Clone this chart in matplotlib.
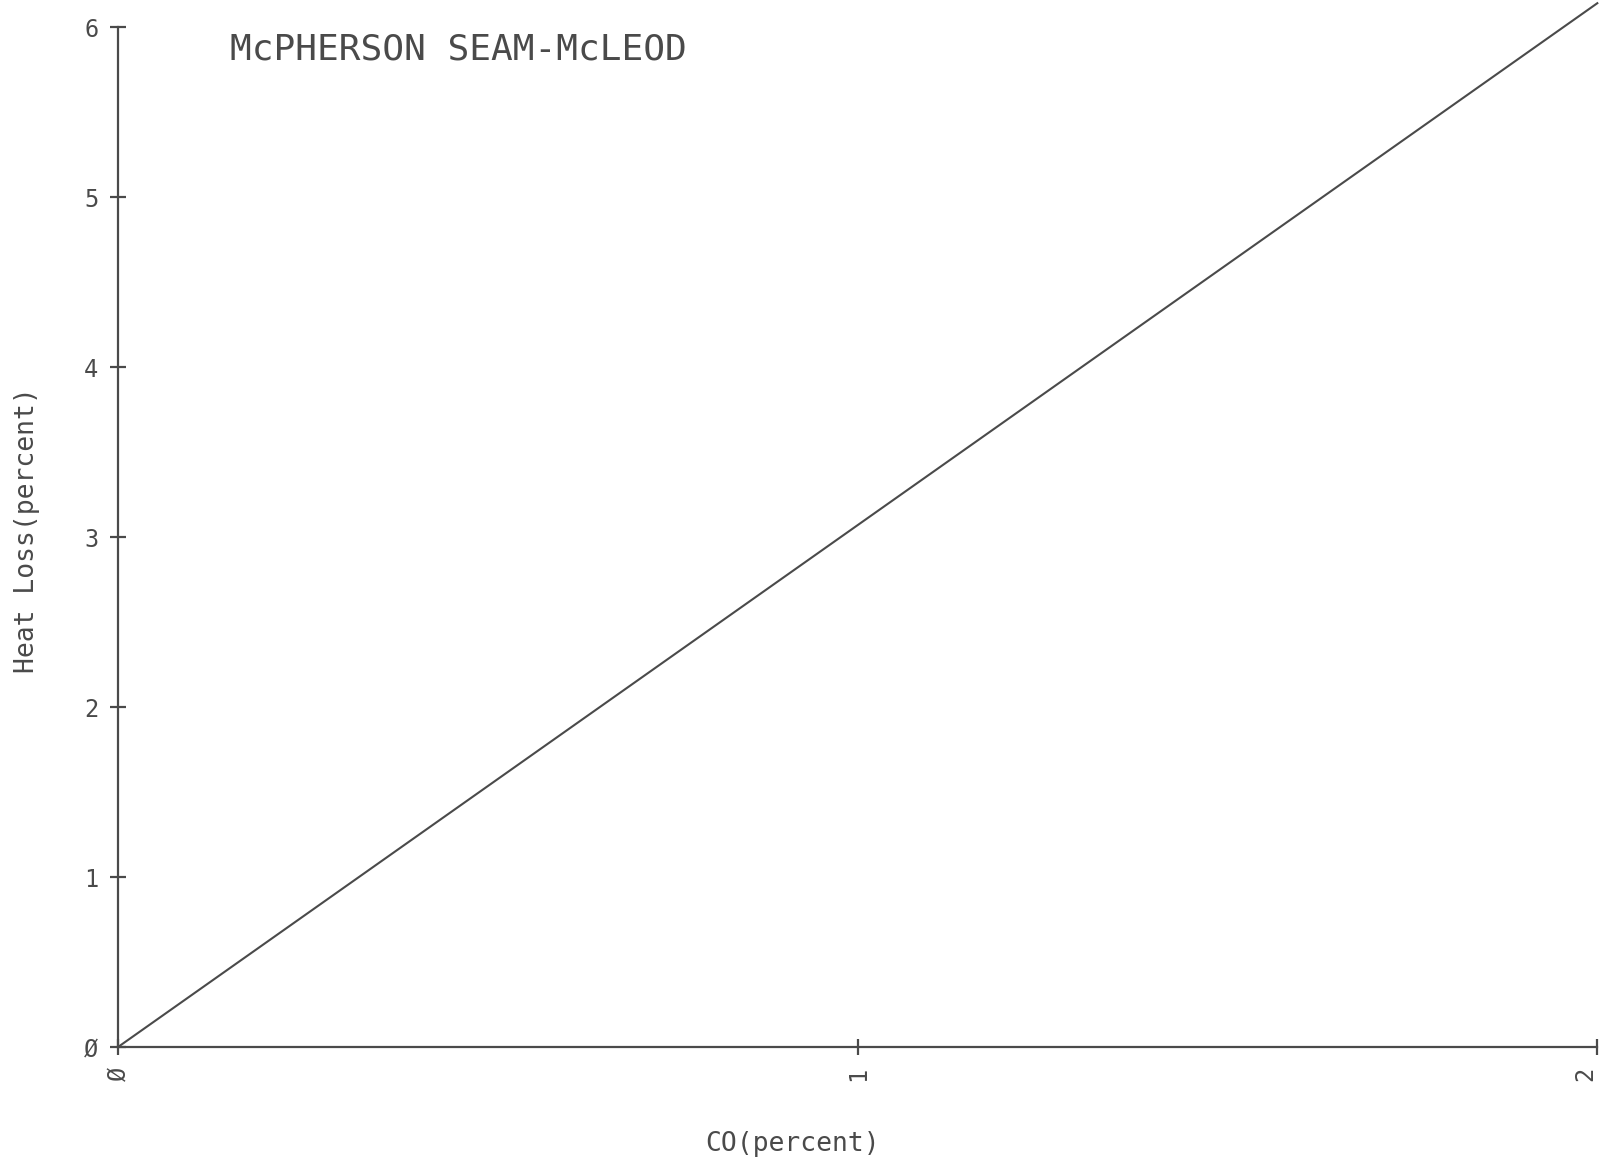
import matplotlib.pyplot as plt

# heat loss line
co_pct = [0, 2]
heat_loss = [0, 6.14]

x_ticks = [0, 1, 2]
x_labels = ["Ø", "1", "2"]
y_ticks = [0, 1, 2, 3, 4, 5, 6]
y_labels = ["Ø", "1", "2", "3", "4", "5", "6"]

ink = "#4a4a4a"
plt.rcParams['font.family'] = ['DejaVu Sans Mono', 'DejaVu Sans']

fig = plt.figure(figsize=(16.01, 11.59), dpi=100)
ax = fig.add_axes([0.0737, 0.0966, 0.924, 0.8801])

ax.plot(co_pct, heat_loss, color=ink, lw=1.5, clip_on=False)

ax.set_xlim(0, 2)
ax.set_ylim(0, 6)
for s in ("top", "right"):
    ax.spines[s].set_visible(False)
for s in ("left", "bottom"):
    ax.spines[s].set_color(ink)
    ax.spines[s].set_linewidth(1.6)

ax.set_xticks(x_ticks)
ax.set_xticklabels(x_labels, rotation=90, fontsize=17, color=ink)
ax.get_xticklabels()[-1].set_ha("right")
ax.set_yticks(y_ticks)
ax.set_yticklabels(y_labels, fontsize=17, color=ink)
ax.tick_params(direction="inout", length=12, width=1.6, color=ink, pad=8)

ax.set_xlabel("CO(percent)", fontsize=19, color=ink)
ax.xaxis.set_label_coords(0.456, -0.082)
ax.set_ylabel("Heat Loss(percent)", fontsize=19, color=ink)
ax.yaxis.set_label_coords(-0.053, 0.507)

ax.text(0.152, 5.87, "McPHERSON SEAM-McLEOD", fontsize=26, color=ink, va="center")

fig.savefig("out.png", dpi=100)
